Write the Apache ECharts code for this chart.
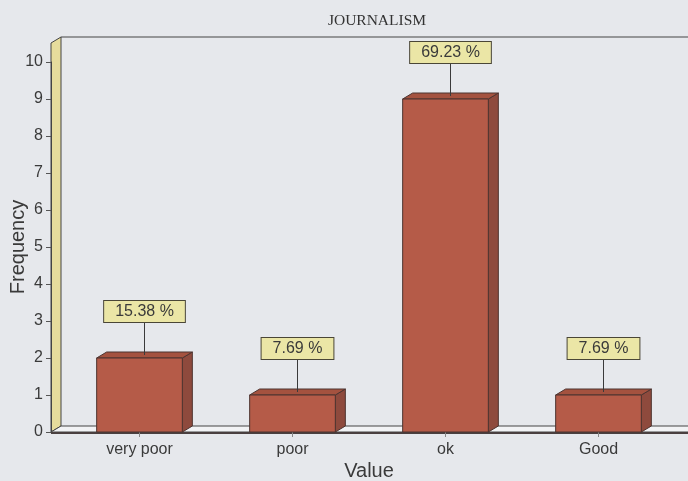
<!DOCTYPE html>
<html><head><meta charset="utf-8">
<script src="https://cdn.jsdelivr.net/npm/echarts@6/dist/echarts.min.js"></script>
<style>html,body{margin:0;padding:0;background:#e6e8ec;}#c{width:688px;height:481px;}</style>
</head><body><div id="c"></div>
<script>
const title = 'JOURNALISM';
const categories = ['very poor', 'poor', 'ok', 'Good'];
const frequency = [2, 1, 9, 1];
const percentLabels = ['15.38 %', '7.69 %', '69.23 %', '7.69 %'];
const yTicks = [0, 1, 2, 3, 4, 5, 6, 7, 8, 9, 10];

const DX = 10, DY = 6;
const chart = echarts.init(document.getElementById('c'), null, {renderer: 'canvas'});
const textCol = '#3a3a3a';
const outline = '#4d3430';
const sans = '"Liberation Sans", Arial, sans-serif';

function renderBar(params, api) {
  const idx = api.value(0);
  const v = api.value(1);
  const base = api.coord([idx, 0]);
  const top = api.coord([idx, v]);
  const bw = api.size([1, 0])[0] * 0.56;
  const x0 = base[0] - bw / 2, x1 = base[0] + bw / 2;
  const y0 = base[1], y1 = top[1];
  const cx = (x0 + x1) / 2 + DX / 2;
  const boxBottom = y1 - DY - 30;
  return {
    type: 'group',
    children: [
      {type: 'polygon', shape: {points: [[x1, y1], [x1 + DX, y1 - DY], [x1 + DX, y0 - DY], [x1, y0]]},
        style: {fill: '#8e4a3d', stroke: outline, lineWidth: 1}},
      {type: 'polygon', shape: {points: [[x0, y1], [x0 + DX, y1 - DY], [x1 + DX, y1 - DY], [x1, y1]]},
        style: {fill: '#a4523f', stroke: outline, lineWidth: 1}},
      {type: 'rect', shape: {x: x0, y: y1, width: bw, height: y0 - y1},
        style: {fill: '#b55b48', stroke: outline, lineWidth: 1}},
      {type: 'line', shape: {x1: cx, y1: y1 - DY / 2, x2: cx, y2: boxBottom},
        style: {stroke: '#3a3a3a', lineWidth: 1}},
      {type: 'text', x: cx, y: boxBottom,
        style: {text: percentLabels[params.dataIndex], fill: '#3a3a3a', font: '16px ' + sans,
          align: 'center', verticalAlign: 'bottom', backgroundColor: '#ebe6a6', borderColor: '#4a4636', borderWidth: 1,
          padding: [3, 11, 2, 11]}}
    ]
  };
}

chart.setOption({
  backgroundColor: '#e6e8ec',
  animation: false,
  title: {text: title, left: 372, top: 8, textAlign: 'center',
    textStyle: {fontFamily: '"Liberation Serif", "DejaVu Serif", serif', fontSize: 15.5, fontWeight: 'normal', color: '#333'}},
  grid: {left: 63, width: 612, top: 62, bottom: 49, containLabel: false, outerBoundsMode: 'none'},
  xAxis: {type: 'category', data: categories, boundaryGap: true,
    axisLine: {show: false},
    axisTick: {show: true, alignWithLabel: true, length: 5, inside: false, lineStyle: {color: '#888'}},
    axisLabel: {color: textCol, fontSize: 16, fontFamily: sans, margin: 10},
    name: 'Value', nameLocation: 'middle', nameGap: 29, nameMoveOverlap: false,
    nameTextStyle: {color: textCol, fontSize: 20, fontFamily: sans}},
  yAxis: {type: 'value', min: 0, max: 10, interval: 1, offset: 12,
    axisLine: {show: true, lineStyle: {color: '#444', width: 1}},
    axisTick: {show: true, length: 5, lineStyle: {color: '#555'}},
    splitLine: {show: false},
    axisLabel: {color: textCol, fontSize: 16, fontFamily: sans, margin: 8,
      formatter: v => yTicks.includes(v) ? String(v) : ''},
    name: 'Frequency', nameLocation: 'middle', nameGap: 23, nameRotate: 90, nameMoveOverlap: false,
    nameTextStyle: {color: textCol, fontSize: 20, fontFamily: sans}},
  series: [{
    type: 'custom', renderItem: renderBar, z: 5,
    data: frequency.map((v, i) => [i, v]),
    encode: {x: 0, y: 1}
  }]
});

// Decorative 3D frame: wall, floor, top border, derived from the axes
const p0 = chart.convertToPixel({gridIndex: 0}, [0, 0]);
const yZero = p0[1];
const yTen = chart.convertToPixel({yAxisIndex: 0}, 10);
const xFront = 51, xBack = xFront + DX, W = 688;
const topY = yTen - 25;
chart.setOption({
  graphic: [
    {type: 'polygon', z: -1, shape: {points: [[xFront, topY + DY], [xBack, topY], [xBack, yZero - DY], [xFront, yZero]]},
      style: {fill: '#e6dc9c', stroke: '#444', lineWidth: 1}},
    {type: 'polygon', z: -1, shape: {points: [[xFront, yZero], [xBack, yZero - DY], [W + 5, yZero - DY], [W + 5, yZero]]},
      style: {fill: '#f2f3f5', stroke: '#444', lineWidth: 1}},
    {type: 'line', z: -1, shape: {x1: xBack, y1: topY, x2: W, y2: topY}, style: {stroke: '#444', lineWidth: 1.2}},
    {type: 'line', z: -1, shape: {x1: xFront, y1: yZero + 1, x2: W, y2: yZero + 1}, style: {stroke: '#4a4040', lineWidth: 2}}
  ]
});
</script></body></html>
